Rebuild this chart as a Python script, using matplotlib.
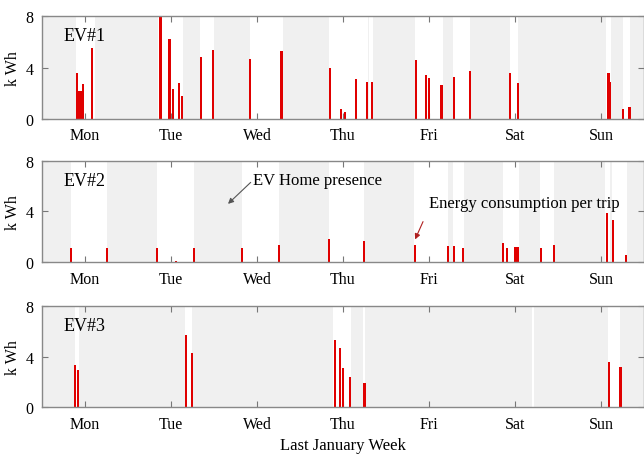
import numpy as np
import matplotlib
matplotlib.use('Agg')
import matplotlib.pyplot as plt

plt.rcParams['font.family'] = ['Liberation Serif', 'DejaVu Serif']

days = ['Mon', 'Tue', 'Wed', 'Thu', 'Fri', 'Sat', 'Sun']
day_ticks = [12, 36, 60, 84, 108, 132, 156]   # hour of the week

# EV#1 : hours away from home (start, end) and trips (hour, kWh)
ev1_away_start = [9.4, 32.4, 44.0, 57.9, 80.2, 91.3, 104.1, 114.7, 130.5, 157.3, 162.1]
ev1_away_end = [14.8, 39.4, 47.9, 67.2, 90.9, 92.3, 111.9, 119.4, 132.9, 158.8, 164.0]
ev1_trip_hour = [9.7, 10.05, 10.47, 10.89, 11.53, 14.03, 32.9, 33.3, 35.58, 36.58, 38.17, 39.09,
                 44.38, 47.63, 57.93, 66.84, 80.4, 83.46, 84.47, 87.64, 90.59, 92.09,
                 104.34, 107.13, 108.05, 111.47, 114.92, 119.38, 130.51, 132.82,
                 158.07, 158.52, 162.05, 163.92]
ev1_trip_kwh = [3.6, 2.2, 2.2, 2.2, 2.75, 5.5, 8.0, 8.0, 6.25, 2.3, 2.8, 1.8,
                4.8, 5.35, 4.7, 5.25, 3.95, 0.8, 0.55, 3.1, 2.9, 2.9,
                4.55, 3.45, 3.2, 2.65, 3.3, 3.7, 3.55, 2.8,
                3.55, 2.9, 0.8, 0.9]

# EV#2
ev2_away_start = [8.0, 32.0, 55.9, 80.0, 103.9, 114.7, 128.5, 139.0, 157.2, 159.0]
ev2_away_end = [18.2, 42.3, 66.1, 89.9, 113.3, 117.7, 133.1, 142.8, 158.4, 163.3]
ev2_trip_hour = [8.1, 18.2, 32.0, 37.3, 42.3, 55.9, 66.1, 80.0, 89.9, 104.1, 113.3, 115.0,
                 117.5, 128.7, 129.85, 132.1, 132.8, 139.3, 142.8, 157.7, 159.3, 163.0]
ev2_trip_kwh = [1.1, 1.1, 1.1, 0.1, 1.1, 1.1, 1.4, 1.8, 1.65, 1.4, 1.3, 1.3,
                1.1, 1.55, 1.1, 1.2, 1.2, 1.1, 1.35, 3.9, 3.35, 0.6]

# EV#3
ev3_away_start = [9.2, 40.0, 81.1, 89.5, 136.7, 157.9]
ev3_away_end = [10.4, 41.9, 86.2, 90.2, 137.2, 161.3]
ev3_trip_hour = [9.3, 10.05, 40.1, 41.8, 81.7, 83.1, 84.1, 86.05, 90.0, 136.8, 158.1, 161.4]
ev3_trip_kwh = [3.3, 2.95, 5.7, 4.25, 5.3, 4.7, 3.1, 2.35, 1.9, 0.05, 3.55, 3.2]

evs = [
    ('EV#1', ev1_away_start, ev1_away_end, ev1_trip_hour, ev1_trip_kwh),
    ('EV#2', ev2_away_start, ev2_away_end, ev2_trip_hour, ev2_trip_kwh),
    ('EV#3', ev3_away_start, ev3_away_end, ev3_trip_hour, ev3_trip_kwh),
]

fig = plt.figure(figsize=(6.44, 4.56), dpi=100)
boxes = [[0.0652, 0.7368, 0.935, 0.2259],
         [0.0652, 0.4226, 0.935, 0.2228],
         [0.0652, 0.1046, 0.935, 0.2228]]

axes = []
for box, (name, a_start, a_end, t_hour, t_kwh) in zip(boxes, evs):
    ax = fig.add_axes(box)
    ax.set_facecolor('#f0f0f0')
    for s, e in zip(a_start, a_end):
        ax.axvspan(s, e, color='white', lw=0, zorder=0)
    ax.bar(t_hour, t_kwh, width=0.6, color='#e00000', zorder=2)
    ax.set_xlim(0, 168)
    ax.set_ylim(0, 8)
    ax.set_yticks([0, 4, 8])
    ax.set_xticks(day_ticks)
    ax.set_xticklabels(days)
    ax.tick_params(direction='in', length=4, color='#777777', labelsize=11.5,
                   top=True, right=True, pad=6)
    for sp in ax.spines.values():
        sp.set_color('#888888')
        sp.set_linewidth(1.0)
    ax.set_ylabel('k Wh', fontsize=11.5, labelpad=3)
    ax.text(0.035, 0.81, name, transform=ax.transAxes, fontsize=13,
            ha='left', va='center')
    axes.append(ax)

axes[2].set_xlabel('Last January Week', fontsize=12, labelpad=4)

axes[1].annotate('EV Home presence', xy=(51.9, 4.6), xytext=(59.0, 6.5),
                 fontsize=12, ha='left', va='center',
                 arrowprops=dict(arrowstyle='-|>', color='#555555', lw=0.8,
                                 shrinkA=0, shrinkB=0, mutation_scale=8,
                                 relpos=(0, 0.5)))
axes[1].annotate('Energy consumption per trip', xy=(104.1, 1.8), xytext=(108.0, 4.65),
                 fontsize=12, ha='left', va='center',
                 arrowprops=dict(arrowstyle='-|>', color='#b02020', lw=0.8,
                                 shrinkA=6, shrinkB=0, mutation_scale=8,
                                 relpos=(0, 0.2)))

fig.savefig('out.png', dpi=100)
